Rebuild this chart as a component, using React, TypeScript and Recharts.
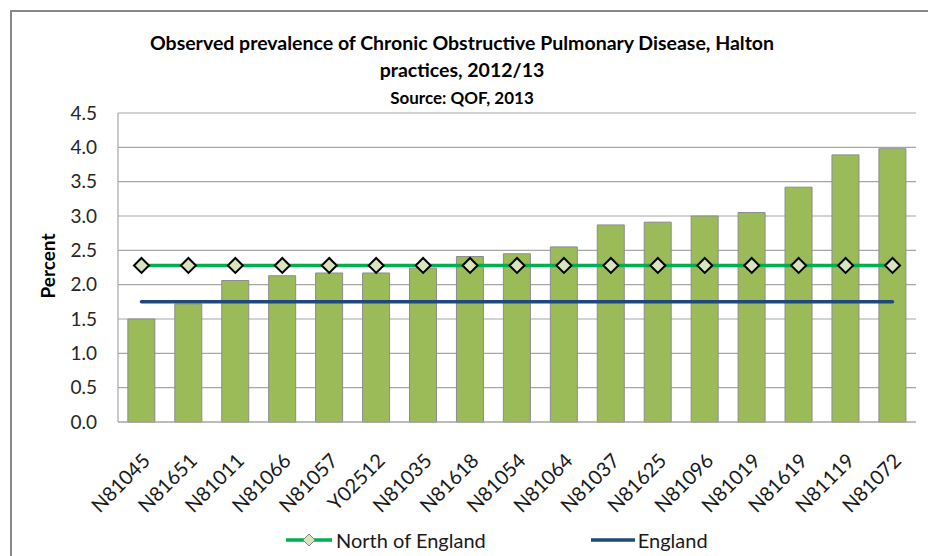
import { ComposedChart, Bar, Line, XAxis, YAxis, CartesianGrid } from 'recharts';

// GP practice codes, sorted by prevalence
const practices = [
  'N81045', 'N81651', 'N81011', 'N81066', 'N81057', 'Y02512', 'N81035', 'N81618', 'N81054',
  'N81064', 'N81037', 'N81625', 'N81096', 'N81019', 'N81619', 'N81119', 'N81072',
];

// observed COPD prevalence (%)
const prevalence = [
  1.5, 1.72, 2.06, 2.13, 2.17, 2.17, 2.24, 2.41, 2.45,
  2.55, 2.87, 2.91, 3.0, 3.05, 3.42, 3.89, 3.98,
];

// benchmark values (%)
const northOfEngland = 2.28;
const england = 1.75;

const yTicks = [0, 0.5, 1, 1.5, 2, 2.5, 3, 3.5, 4, 4.5];

const data = practices.map((code, i) => ({
  code,
  prevalence: prevalence[i],
  north: northOfEngland,
  england,
}));

const FONT = 'Lato, "Open Sans", sans-serif';
const GRID = '#a6a6a6';

const Diamond = ({ cx, cy }: any) => {
  if (cx == null || cy == null) return null;
  const r = 7.5;
  return (
    <path
      d={`M${cx},${cy - r}L${cx + r},${cy}L${cx},${cy + r}L${cx - r},${cy}Z`}
      fill="#D7E4BD"
      stroke="#000"
      strokeWidth={2}
    />
  );
};

const PracticeTick = ({ x, y, payload }: any) => (
  <g transform={`translate(${x + 10},${y + 40})`}>
    <text textAnchor="end" transform="rotate(-45)" fontSize={20} fill="#1a1a1a" fontFamily={FONT}>
      {payload.value}
    </text>
  </g>
);

const PercentLabel = () => (
  <text
    x={55}
    y={266}
    transform="rotate(-90, 55, 266)"
    textAnchor="middle"
    fontSize={19}
    fontWeight="bold"
    fill="#000"
    fontFamily={FONT}
  >
    Percent
  </text>
);

export default function App() {
  return (
    <div
      style={{
        position: 'fixed',
        left: 0,
        top: 0,
        width: 928,
        height: 556,
        overflow: 'hidden',
        background: '#fff',
        fontFamily: FONT,
      }}
    >
      {/* chart frame */}
      <div
        style={{
          position: 'absolute',
          left: 10,
          top: 10,
          width: 960,
          height: 600,
          borderLeft: '2px solid #888',
          borderTop: '2px solid #888',
        }}
      />

      <div style={{ position: 'absolute', left: 0, top: 29, width: 924, textAlign: 'center', fontWeight: 'bold', color: '#000' }}>
        <div style={{ fontSize: 19.5, lineHeight: '27px' }}>
          Observed prevalence of Chronic Obstructive Pulmonary Disease, Halton
        </div>
        <div style={{ fontSize: 19.5, lineHeight: '27px' }}>practices, 2012/13</div>
        <div style={{ fontSize: 17, lineHeight: '24px', marginTop: 3 }}>Source: QOF, 2013</div>
      </div>

      <div style={{ position: 'absolute', left: 0, top: 0 }}>
        <ComposedChart
          width={928}
          height={556}
          data={data}
          margin={{ top: 113, right: 12, left: 0, bottom: 104 }}
          barCategoryGap="21%"
        >
          <CartesianGrid vertical={false} stroke={GRID} strokeWidth={1.2} />
          <XAxis
            dataKey="code"
            height={30}
            interval={0}
            tickLine={false}
            tickSize={0}
            tickMargin={0}
            axisLine={{ stroke: GRID, strokeWidth: 1.2 }}
            tick={<PracticeTick />}
          />
          <YAxis
            width={118}
            domain={[0, 4.5]}
            ticks={yTicks}
            interval={0}
            tickLine={false}
            tickSize={0}
            tickMargin={21}
            axisLine={{ stroke: GRID, strokeWidth: 1.2 }}
            tickFormatter={(v: number) => v.toFixed(1)}
            tick={{ fontSize: 19, fill: '#262626', fontFamily: FONT }}
            label={<PercentLabel />}
          />
          <Bar dataKey="prevalence" fill="#9BBB59" stroke="#8c8c8c" strokeWidth={1} isAnimationActive={false} />
          <Line
            dataKey="england"
            stroke="#1F497D"
            strokeWidth={3.5}
            strokeLinecap="round"
            dot={false}
            activeDot={false}
            isAnimationActive={false}
          />
          <Line
            dataKey="north"
            stroke="#00B050"
            strokeWidth={3.5}
            dot={<Diamond />}
            activeDot={false}
            isAnimationActive={false}
          />
        </ComposedChart>
      </div>

      {/* legend */}
      <div style={{ position: 'absolute', left: 285, top: 527, height: 26, display: 'flex', alignItems: 'center', fontSize: 20, color: '#1a1a1a' }}>
        <svg width={48} height={20} style={{ marginRight: 3 }}>
          <line x1={1} y1={10} x2={47} y2={10} stroke="#00B050" strokeWidth={3.5} />
          <path d="M24,4L30,10L24,16L18,10Z" fill="#D7E4BD" stroke="#7f7f7f" strokeWidth={1} />
        </svg>
        <span>North of England</span>
        <svg width={46} height={20} style={{ marginLeft: 104, marginRight: 2 }}>
          <line x1={1} y1={10} x2={45} y2={10} stroke="#1F497D" strokeWidth={3.5} />
        </svg>
        <span>England</span>
      </div>
    </div>
  );
}
